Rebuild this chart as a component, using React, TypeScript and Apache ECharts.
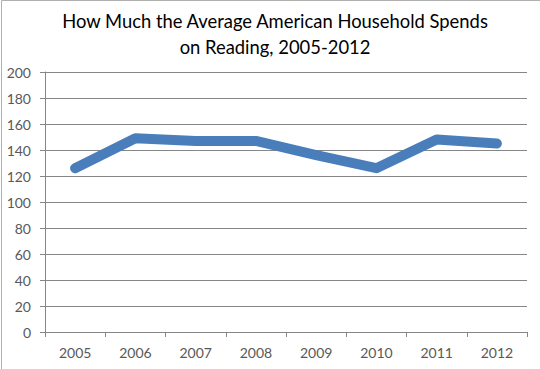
import React, { useEffect, useRef } from "react";
import * as echarts from "echarts";

const years = ["2005", "2006", "2007", "2008", "2009", "2010", "2011", "2012"];
const spending = [126, 149, 147, 147, 136, 126, 148, 145];
const titleText = "How Much the Average American Household Spends\non Reading, 2005-2012";

export default function App() {
  const ref = useRef<HTMLDivElement>(null);
  useEffect(() => {
    const chart = echarts.init(ref.current!, null, { renderer: "svg" });
    const font = "Lato, 'Open Sans', sans-serif";
    chart.setOption({
      animation: false,
      backgroundColor: "#ffffff",
      title: {
        text: titleText,
        left: 270,
        textAlign: "center",
        top: 3,
        textStyle: {
          fontFamily: font,
          fontWeight: "normal",
          fontSize: 18.4,
          lineHeight: 26,
          color: "#000000",
        },
      },
      graphic: [
        {
          type: "rect",
          shape: { x: 1.5, y: 0.5, width: 560, height: 400 },
          style: { fill: "none", stroke: "#b0b0b0", lineWidth: 1 },
          silent: true,
        },
      ],
      grid: { left: 45, right: 13, top: 72, bottom: 37 },
      xAxis: {
        type: "category",
        data: years,
        boundaryGap: true,
        axisLine: { lineStyle: { color: "#868686", width: 1 } },
        axisTick: { show: true, alignWithLabel: false, length: 5, inside: false, lineStyle: { color: "#868686" } },
        axisLabel: { color: "#595959", fontSize: 14, margin: 13, fontFamily: font },
        splitLine: { show: false },
      },
      yAxis: {
        type: "value",
        min: 0,
        max: 200,
        interval: 20,
        axisLine: { show: true, lineStyle: { color: "#868686", width: 1 } },
        axisTick: { show: true, length: 5, lineStyle: { color: "#868686" } },
        axisLabel: { color: "#595959", fontSize: 14, margin: 14, fontFamily: font },
        splitLine: { show: true, lineStyle: { color: "#868686", width: 1 } },
      },
      series: [
        {
          type: "line",
          data: spending,
          symbol: "none",
          lineStyle: { color: "#4a7ebb", width: 10, cap: "round", join: "round" },
          itemStyle: { color: "#4a7ebb" },
        },
      ],
    });
    return () => chart.dispose();
  }, []);
  return <div ref={ref} style={{ position: "fixed", left: 0, top: 0, width: 540, height: 369 }} />;
}
